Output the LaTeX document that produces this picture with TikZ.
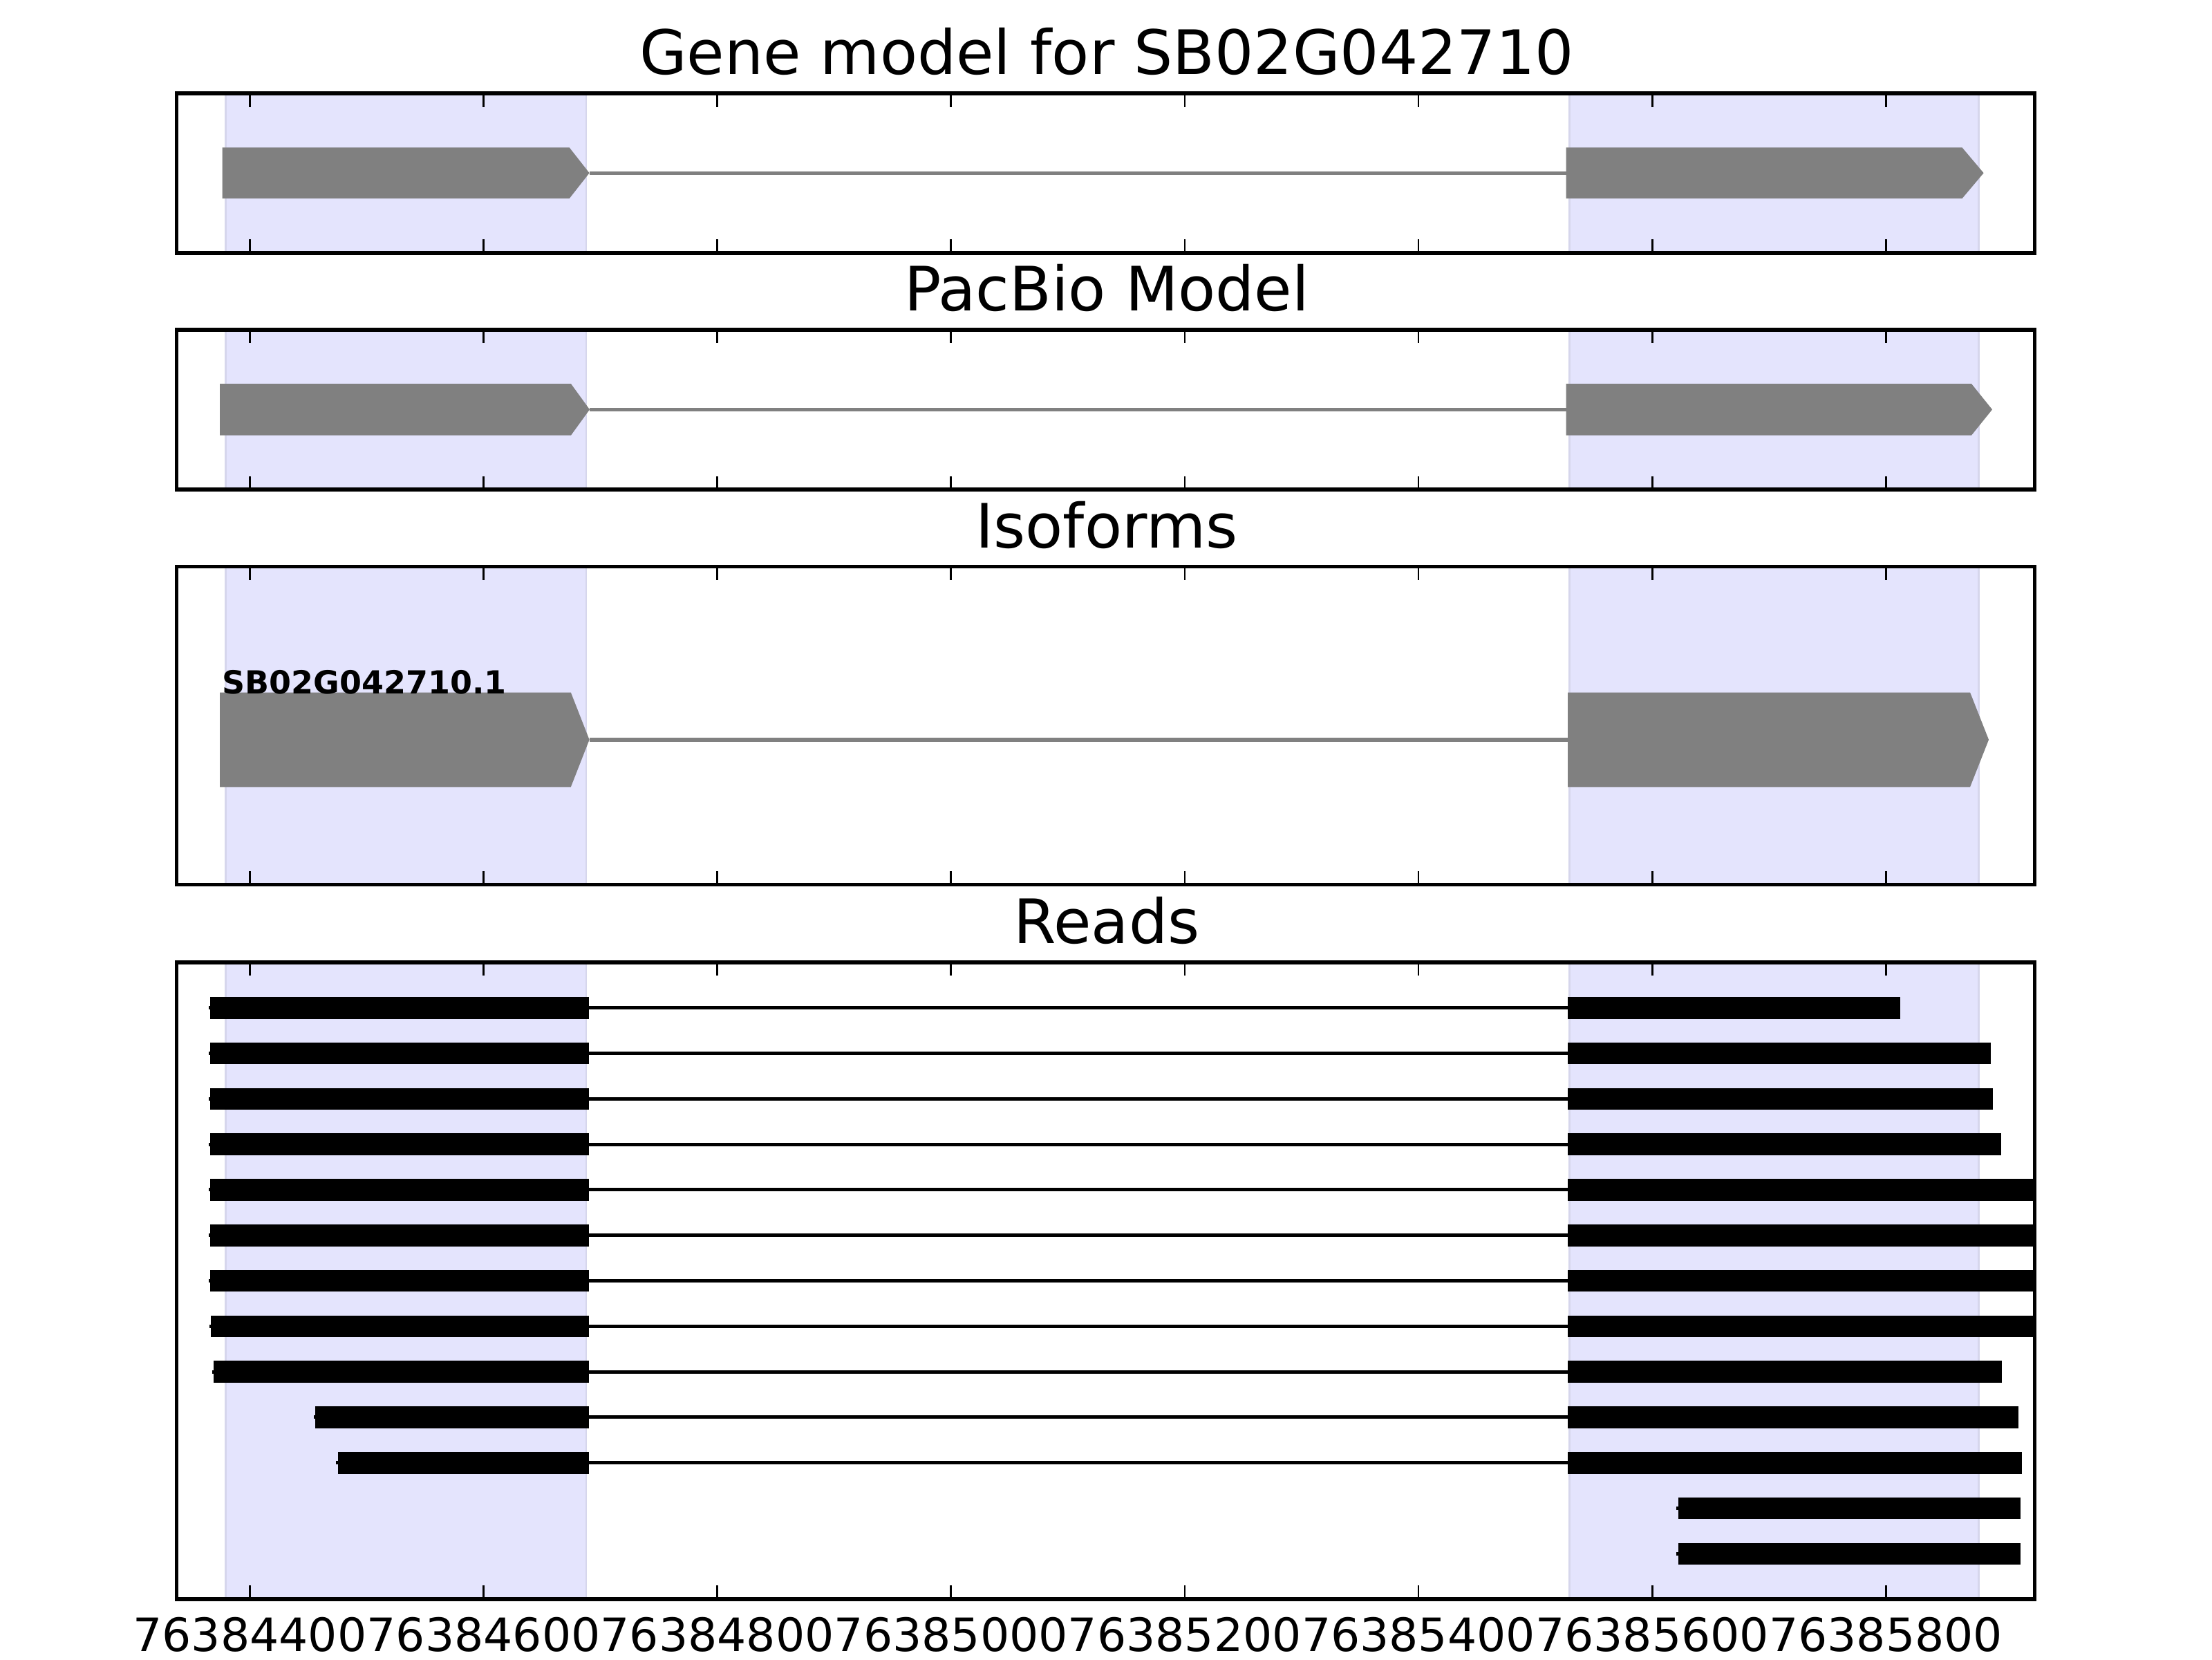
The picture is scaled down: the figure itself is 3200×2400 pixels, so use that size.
\documentclass[tikz,border=0pt]{standalone}
\usepackage{fontspec}
\setmainfont{DejaVu Sans}
\definecolor{spanfill}{RGB}{228,228,253}
\definecolor{spanedge}{RGB}{214,214,236}
\definecolor{exongray}{RGB}{128,128,128}
\tikzset{
  spanbox/.style={fill=spanfill, draw=spanedge, line width=0.5pt},
  panelframe/.style={draw=black, line width=1pt},
  tickmark/.style={draw=black, line width=0.5pt},
  exonshape/.style={fill=exongray},
  intronline/.style={draw=exongray, line width=1pt},
  readbar/.style={fill=black},
  readline/.style={draw=black, line width=0.9pt, line cap=rect},
  titletext/.style={anchor=base, inner sep=0pt, font=\fontsize{16}{19}\selectfont},
  ticklabel/.style={anchor=base, inner sep=0pt, font=\fontsize{12}{14}\selectfont},
  isolabel/.style={anchor=base west, inner sep=0pt, font=\bfseries\fontsize{8.3}{10}\selectfont},
}
% panel background: shaded exon spans and ticks; #1 top, #2 bottom
\newcommand{\panelback}[2]{%
  \path[spanbox] (326.5,#1) rectangle (848,#2);
  \path[spanbox] (2270.5,#1) rectangle (2862.7,#2);
  \foreach \k in {0,...,7}{%
    \draw[tickmark] ({361.5+338.1*\k},#1) -- ++(0,19.4);
    \draw[tickmark] ({361.5+338.1*\k},#2) -- ++(0,-19.4);
  }%
}
\newcommand{\panelframe}[2]{\draw[panelframe] (255.7,#1) rectangle (2943.3,#2);}
% gene exon arrow: left, shoulder, tip, top, bottom
\newcommand{\exonarrow}[5]{%
  \fill[exonshape] (#1,#4) -- (#2,#4) -- (#3,{(#4+#5)/2}) -- (#2,#5) -- (#1,#5) -- cycle;}
% read: y, start, exon1 end, exon2 start, end
\newcommand{\readrow}[5]{%
  \draw[readline] (#2,#1) -- (#4,#1);
  \fill[readbar] (#2,{#1-15.8}) rectangle (#3,{#1+15.8});
  \fill[readbar] (#4,{#1-15.8}) rectangle (#5,{#1+15.8});}
\newcommand{\readtail}[3]{%
  \draw[readline] (#2,#1) -- ({#2+10},#1);
  \fill[readbar] (#2,{#1-15.8}) rectangle (#3,{#1+15.8});}
\begin{document}
\begin{tikzpicture}[x=0.180675pt,y=-0.180675pt]
\useasboundingbox (0,0) rectangle (3200,2400);
\fill[white] (0,0) rectangle (3200,2400);

% ---------- Panel 1: Gene model ----------
\node[titletext] (t1) at (1601,107.9) {Gene model for SB02G042710};
\panelback{135.2}{365.8}
\exonarrow{321.5}{823.6}{852.6}{213.3}{287.2}
\draw[intronline] (852.6,250.3) -- (2265.7,250.3);
\exonarrow{2265.7}{2838.4}{2869.6}{213.3}{287.2}
\panelframe{135.2}{365.8}

% ---------- Panel 2: PacBio Model ----------
\node[titletext] (t2) at (1601,449.7) {PacBio Model};
\panelback{477}{708.2}
\exonarrow{318}{826}{853}{555.1}{629.6}
\draw[intronline] (853,592.3) -- (2265.7,592.3);
\exonarrow{2265.7}{2852}{2882}{555.1}{629.6}
\panelframe{477}{708.2}

% ---------- Panel 3: Isoforms ----------
\node[titletext] (t3) at (1601,792) {Isoforms};
\panelback{819.4}{1279.6}
\exonarrow{318}{825.8}{852.6}{1001.5}{1138.3}
\draw[intronline] (852.6,1069.9) -- (2268,1069.9);
\exonarrow{2268}{2850}{2877}{1001.5}{1138.3}
\node[isolabel] (iso) at (320.5,1003.5) {SB02G042710.1};
\panelframe{819.4}{1279.6}

% ---------- Panel 4: Reads ----------
\node[titletext] (t4) at (1601,1364.5) {Reads};
\panelback{1391.8}{2312.8}
\begin{scope}
  \clip (255.7,1391.8) rectangle (2943.3,2312.8);
  \readrow{1457.7}{304.3}{851.7}{2268.2}{2748.7}
  \readrow{1523.5}{304.3}{851.7}{2268.2}{2880.3}
  \readrow{1589.3}{304.3}{851.7}{2268.2}{2882.7}
  \readrow{1655.1}{304.3}{851.7}{2268.2}{2894.7}
  \readrow{1720.9}{304.3}{851.7}{2268.2}{2980}
  \readrow{1786.7}{304.3}{851.7}{2268.2}{2980}
  \readrow{1852.5}{304.3}{851.7}{2268.2}{2980}
  \readrow{1918.3}{305.3}{851.7}{2268.2}{2980}
  \readrow{1984.1}{309.3}{851.7}{2268.2}{2895.7}
  \readrow{2049.9}{456.3}{851.7}{2268.2}{2919.7}
  \readrow{2115.7}{488.5}{851.7}{2268.2}{2924.7}
  \readtail{2181.5}{2427.7}{2922.7}
  \readtail{2247.3}{2427.7}{2922.7}
\end{scope}
\panelframe{1391.8}{2312.8}

% ---------- x tick labels ----------
\foreach \k/\lab in {0/76384400,1/76384600,2/76384800,3/76385000,4/76385200,5/76385400,6/76385600,7/76385800}{%
  \node[ticklabel] (tl\k) at ({361.5+338.1*\k},2388) {\lab};
}
\end{tikzpicture}
\end{document}
